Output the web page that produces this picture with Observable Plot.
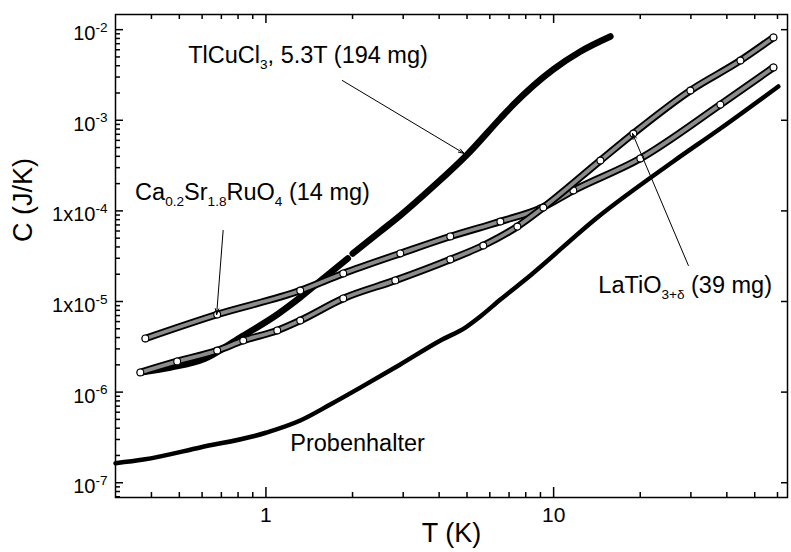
<!DOCTYPE html>
<html><head><meta charset="utf-8">
<script src="https://cdn.jsdelivr.net/npm/d3@7"></script>
<script src="https://cdn.jsdelivr.net/npm/@observablehq/plot@0.6"></script>
<style>body{margin:0;background:#fff} svg{display:block}</style>
</head><body><div id="chart"></div>
<script>
// Probenhalter (sample holder / addenda)
const probT = [0.3, 0.375, 0.591, 1.0, 1.316, 1.673, 2.128, 2.931, 4.041, 4.935, 5.56, 6.53, 8.30, 14.19, 26.06, 38.0, 60.4];
const probC = [1.64e-7, 1.80e-7, 2.45e-7, 3.56e-7, 4.86e-7, 7.29e-7, 1.12e-6, 2.02e-6, 3.71e-6, 5.16e-6, 6.83e-6, 1.05e-5, 1.94e-5, 8.46e-5, 3.51e-4, 8.11e-4, 2.36e-3];
// TlCuCl3, 5.3 T (two measurement runs)
const tlT = [0.366, 0.465, 0.615, 0.814, 1.095, 1.316, 1.582, 1.925, 2.003, 2.497, 2.931, 3.817, 5.01, 6.53, 7.25, 9.98, 12.39, 15.75];
const tlC = [1.65e-6, 1.87e-6, 2.35e-6, 4.01e-6, 7.19e-6, 1.11e-5, 1.79e-5, 2.98e-5, 3.39e-5, 5.92e-5, 8.89e-5, 1.86e-4, 4.19e-4, 1.05e-3, 1.49e-3, 3.64e-3, 5.74e-3, 8.41e-3];
const tlRun = [0, 0, 0, 0, 0, 0, 0, 0, 1, 1, 1, 1, 1, 1, 1, 1, 1, 1];
// Ca0.2Sr1.8RuO4
const caT = [0.381, 0.677, 1.316, 1.857, 2.931, 4.373, 6.53, 8.99, 11.71, 20.02, 37.98, 58.1];
const caC = [3.91e-6, 7.19e-6, 1.32e-5, 2.04e-5, 3.39e-5, 5.22e-5, 7.64e-5, 1.063e-4, 1.68e-4, 3.79e-4, 1.49e-3, 3.83e-3];
// LaTiO3+d
const laT = [0.366, 0.4915, 0.677, 0.834, 1.095, 1.316, 1.857, 2.816, 4.373, 5.696, 7.48, 9.21, 14.54, 18.93, 29.88, 44.6, 58.1];
const laC = [1.65e-6, 2.18e-6, 2.88e-6, 3.71e-6, 4.79e-6, 6.17e-6, 1.08e-5, 1.71e-5, 2.91e-5, 4.15e-5, 6.72e-5, 1.09e-4, 3.60e-4, 7.15e-4, 2.13e-3, 4.57e-3, 8.20e-3];

// Axes
const xMajor = [1, 10];
const xMajorLabels = ["1", "10"];
const xMinor = [0.4, 0.5, 0.6, 0.7, 0.8, 0.9, 2, 3, 4, 5, 6, 7, 8, 9, 20, 30, 40, 50, 60];
const yMajor = [1e-7, 1e-6, 1e-5, 1e-4, 1e-3, 1e-2];
const yMajorLabels = ["10^{-7}", "10^{-6}", "1x10^{-5}", "1x10^{-4}", "10^{-3}", "10^{-2}"];
const yMinor = [];
for (const e of [-8, -7, -6, -5, -4, -3, -2]) for (const m of [2,3,4,5,6,7,8,9]) {
  const v = m * Math.pow(10, e);
  if (v > 6.87e-8 && v < 1.47e-2) yMinor.push(v);
}
const xLabel = "T (K)";
const yLabel = "C (J/K)";

// Annotations (label text with _{sub} markup) and their anchor in data units
const annLabels = ["TlCuCl_{3}, 5.3T (194 mg)", "Ca_{0.2}Sr_{1.8}RuO_{4} (14 mg)", "LaTiO_{3+δ} (39 mg)", "Probenhalter"];
const annT = [0.537, 0.351, 14.3, 1.215];
const annC = [5.19e-3, 1.60e-4, 1.50e-5, 2.71e-7];
// Arrows: from (T1,C1) to (T2,C2)
const arrT1 = [1.842, 0.710, 29.4];
const arrC1 = [2.75e-3, 6.08e-5, 2.50e-5];
const arrT2 = [4.89, 0.674, 18.8];
const arrC2 = [4.30e-4, 7.19e-6, 7.15e-4];

const zip = (T, C) => T.map((t, i) => ({T: t, C: C[i]}));
const prob = zip(probT, probC);
const tl = tlT.map((t, i) => ({T: t, C: tlC[i], run: tlRun[i]}));
const ca = zip(caT, caC);
const la = zip(laT, laC);
const ann = annLabels.map((s, i) => ({s, T: annT[i], C: annC[i]}));
const arr = arrT1.map((t, i) => ({x1: t, y1: arrC1[i], x2: arrT2[i], y2: arrC2[i]}));

const W = 791, H = 552, mL = 115, mR = 4, mT = 14, mB = 55;
const fw = W - mL - mR, fh = H - mT - mB;

const tube = (data) => [
  Plot.line(data, {x: "T", y: "C", stroke: "#000", strokeWidth: 7.5, curve: "monotone-x", strokeLinecap: "round"}),
  Plot.line(data, {x: "T", y: "C", stroke: "#8c8c8c", strokeWidth: 3.8, curve: "monotone-x"}),
  Plot.dot(data, {x: "T", y: "C", r: 3.4, fill: "white", stroke: "black", strokeWidth: 1.1})
];

const chart = Plot.plot({
  width: W, height: H,
  marginLeft: mL, marginRight: mR, marginTop: mT, marginBottom: mB,
  x: {type: "log", domain: [0.3, 65]},
  y: {type: "log", domain: [6.87e-8, 1.47e-2]},
  style: {fontFamily: "'Liberation Sans', Arial, sans-serif", fontSize: "20px", background: "white", color: "black"},
  marks: [
    Plot.line(prob, {x: "T", y: "C", stroke: "black", strokeWidth: 4.5, curve: "monotone-x", strokeLinecap: "round"}),
    Plot.line(tl, {x: "T", y: "C", z: "run", stroke: "black", strokeWidth: 6.5, curve: "monotone-x", strokeLinecap: "round"}),
    ...tube(ca),
    ...tube(la),
    Plot.arrow(arr, {x1: "x1", y1: "y1", x2: "x2", y2: "y2", stroke: "black", strokeWidth: 1, headLength: 9, headAngle: 35}),
    Plot.text(ann, {x: "T", y: "C", text: "s", textAnchor: "start", fontSize: 23.5, fill: "black"}),
    // frame and inward ticks
    Plot.frame({stroke: "black", strokeWidth: 1.5}),
    Plot.tickX(xMajor, {x: d => d, insetTop: fh - 10, strokeWidth: 1.5}),
    Plot.tickX(xMinor, {x: d => d, insetTop: fh - 5, strokeWidth: 1.5}),
    Plot.tickX(xMajor, {x: d => d, insetBottom: fh - 9, strokeWidth: 1.5}),
    Plot.tickX(xMinor, {x: d => d, insetBottom: fh - 5, strokeWidth: 1.5}),
    Plot.tickY(yMajor, {y: d => d, insetRight: fw - 8, strokeWidth: 1.5}),
    Plot.tickY(yMinor, {y: d => d, insetRight: fw - 5, strokeWidth: 1.5}),
    Plot.tickY(yMajor, {y: d => d, insetLeft: fw - 6, strokeWidth: 1.5}),
    Plot.axisX(xMajor, {tickSize: 0, tickPadding: 10, fontSize: 21, label: null, tickFormat: d => xMajorLabels[xMajor.indexOf(d)]}),
    Plot.axisY(yMajor, {tickSize: 0, tickPadding: 8, fontSize: 20, dy: 4, label: null, tickFormat: d => yMajorLabels[yMajor.indexOf(d)]}),
    Plot.text([xLabel], {frameAnchor: "bottom", dy: 44, fontSize: 27, text: d => d}),
    Plot.text([yLabel], {frameAnchor: "left", dx: -92, dy: -14, rotate: -90, fontSize: 27, text: d => d})
  ]
});

// Convert _{..} and ^{..} markup into real sub/superscript tspans
d3.select(chart).selectAll("text").each(function() {
  const el = this;
  const s = el.textContent;
  if (!/[_^]\{/.test(s)) return;
  const fs = parseFloat(getComputedStyle(el).fontSize) || 20;
  el.textContent = "";
  const re = /([_^])\{([^}]*)\}/g;
  let last = 0, m, shift = 0;
  const add = (txt, kind) => {
    if (!txt) return;
    const t = document.createElementNS("http://www.w3.org/2000/svg", "tspan");
    let target = 0;
    if (kind === "_") target = fs * 0.32;
    if (kind === "^") target = -fs * 0.42;
    const d = target - shift;
    if (d) t.setAttribute("dy", d.toFixed(2));
    shift = target;
    if (kind) t.setAttribute("font-size", (fs * 0.68).toFixed(1));
    t.textContent = txt;
    el.appendChild(t);
  };
  while ((m = re.exec(s))) {
    add(s.slice(last, m.index), null);
    add(m[2], m[1]);
    last = re.lastIndex;
  }
  add(s.slice(last), null);
});

document.getElementById("chart").appendChild(chart);
</script></body></html>
